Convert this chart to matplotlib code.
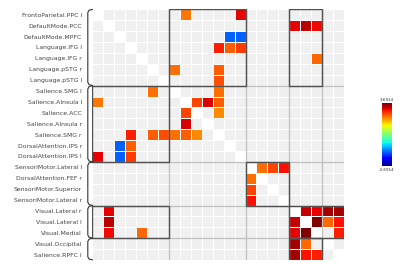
#!/usr/bin/env python3
"""ROI-to-ROI connectivity matrix (t-values, jet scale) with cluster outlines."""

import numpy as np
import matplotlib

matplotlib.use("Agg")
import matplotlib.pyplot as plt
from matplotlib.colors import ListedColormap, Normalize
from matplotlib.patches import Rectangle
from matplotlib.cm import ScalarMappable

ROIS = [
    "FrontoParietal.PPC l", "DefaultMode.PCC", "DefaultMode.MPFC",
    "Language.IFG l", "Language.IFG r", "Language.pSTG r", "Language.pSTG l",
    "Salience.SMG l", "Salience.AInsula l", "Salience.ACC", "Salience.AInsula r",
    "Salience.SMG r", "DorsalAttention.IPS r", "DorsalAttention.IPS l",
    "SensoriMotor.Lateral l", "DorsalAttention.FEF r", "SensoriMotor.Superior",
    "SensoriMotor.Lateral r", "Visual.Lateral r", "Visual.Lateral l",
    "Visual.Medial", "Visual.Occipital", "Salience.RPFC l",
]

# significant connections (1-based row, col, t value); mirrored below
CONN_I = [1, 1, 2, 2, 2, 3, 3, 4, 4, 4, 5, 6, 6, 7, 8, 9, 9, 9, 10,
          15, 15, 15, 19, 19, 19, 19, 20, 20, 20, 21]
CONN_J = [9, 14, 19, 20, 21, 13, 14, 12, 13, 14, 21, 8, 12, 12, 12, 10, 11, 12, 12,
          16, 17, 18, 20, 21, 22, 23, 21, 22, 23, 23]
CONN_T = [2.10, 3.00, 3.00, 3.30, 2.95, -2.07, -2.07, 2.77, 2.30, 2.55, 2.20, 2.14,
          2.28, 2.40, 2.14, 2.50, 3.10, 2.28, 1.96,
          2.14, 2.50, 2.90, 3.23, 3.00, 3.45, 3.45, 3.69, 2.20, 2.88, 2.77]
T_MAX = 3.6914

# cluster boundaries and outlined blocks (col0, row0, ncols, nrows)
GROUP_EDGES = [0, 7, 14, 18, 21, 23]
BLOCKS = [(7, 0, 7, 7), (18, 0, 3, 7), (0, 7, 7, 7), (14, 14, 4, 4),
          (0, 18, 7, 3), (18, 18, 5, 3), (18, 21, 3, 2)]

n = len(ROIS)
vals = np.full((n, n), np.nan)
for i, j, t in zip(CONN_I, CONN_J, CONN_T):
    vals[i - 1, j - 1] = t
    vals[j - 1, i - 1] = t
base = np.ones((n, n))
np.fill_diagonal(base, 0)

fig = plt.figure(figsize=(4.0, 2.7), dpi=100)
ax = fig.add_axes([0.231, 0.037, 0.629, 0.9285])

edges = np.arange(n + 1)
ax.pcolormesh(edges, edges, base, cmap=ListedColormap(["white", "#f0f0f0"]),
              edgecolors="white", linewidth=0.7)
norm = Normalize(-T_MAX, T_MAX)
ax.pcolormesh(edges, edges, np.ma.masked_invalid(vals), cmap="jet", norm=norm,
              edgecolors="white", linewidth=0.7)

for e in GROUP_EDGES[1:-1]:
    ax.axhline(e, color="#c0c0c0", lw=0.9, zorder=3)
    ax.axvline(e, color="#c0c0c0", lw=0.9, zorder=3)

for c0, r0, w, h in BLOCKS:
    ax.add_patch(Rectangle((c0, r0), w, h, fill=False, ec="#505050", lw=1.0, zorder=4))

# curly group brackets on the left
bx = -0.42
for top, bot in zip(GROUP_EDGES[:-1], GROUP_EDGES[1:]):
    ys = [top + 0.02, top + 0.08, top + 0.3, bot - 0.3, bot - 0.08, bot - 0.02]
    xs = [0.0, bx + 0.12, bx, bx, bx + 0.12, 0.0]
    ax.plot(xs, ys, color="#333333", lw=0.8, clip_on=False, zorder=5)

ax.set_xlim(0, n)
ax.set_ylim(n, 0)
ax.set_xticks([])
ax.set_yticks(np.arange(n) + 0.5)
ax.set_yticklabels(ROIS, fontsize=4.4, color="#444444")
ax.tick_params(axis="y", length=0, pad=7.5)
for sp in ax.spines.values():
    sp.set_visible(False)

cax = fig.add_axes([0.954, 0.386, 0.026, 0.231])
cb = fig.colorbar(ScalarMappable(norm=norm, cmap="jet"), cax=cax)
cb.set_ticks([])
cb.outline.set_visible(False)
cax.text(0.5, 1.03, f"{T_MAX:.4f}", transform=cax.transAxes, ha="center",
         va="bottom", fontsize=3, color="#333333")
cax.text(0.5, -0.03, f"-{T_MAX:.4f}", transform=cax.transAxes, ha="center",
         va="top", fontsize=3, color="#333333")

fig.savefig("out.png", dpi=100)
